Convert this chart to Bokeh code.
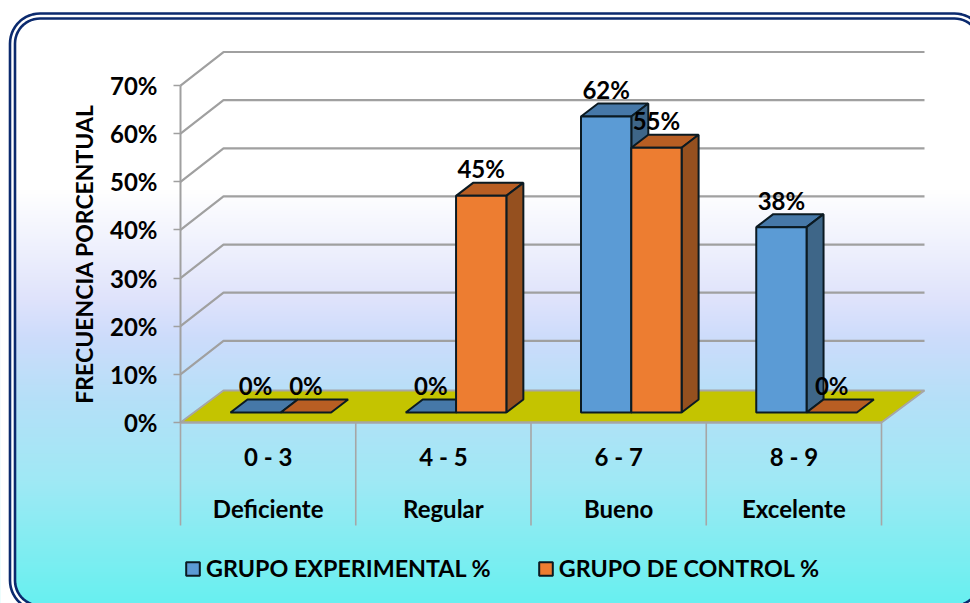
import numpy as np
from bokeh.plotting import figure
from bokeh.embed import file_html
from bokeh.resources import INLINE
from bokeh.models import Range1d, FixedTicker, Legend, LegendItem
from bokeh.core.properties import value

categories = ["0 - 3", "4 - 5", "6 - 7", "8 - 9"]
category_names = ["Deficiente", "Regular", "Bueno", "Excelente"]
experimental = [0, 0, 61.5, 38.5]
control = [0, 45, 55, 0]
experimental_labels = ["0%", "0%", "62%", "38%"]
control_labels = ["0%", "45%", "55%", "0%"]
y_ticks = [0, 10, 20, 30, 40, 50, 60, 70]
series_names = ["GRUPO EXPERIMENTAL %", "GRUPO DE CONTROL %"]

W, H = 970, 603
OFF = 0
PX_X = 175.25   # px per category
PX_Y = 4.814    # px per percent
X0, Y0 = 180.0, 422.0  # page px of the chart origin


def dx(px):
    return px / PX_X


def dy(px):
    return px / PX_Y


def sx(px):
    return (px - X0) / PX_X


def sy(py):
    return (Y0 - py) / PX_Y


FONT = "Lato"
p = figure(width=W, height=H, output_backend="svg", toolbar_location=None,
           x_range=Range1d(sx(OFF), sx(OFF + W)), y_range=Range1d(sy(OFF + H), sy(OFF)),
           min_border=0, outline_line_color=None, background_fill_color="white",
           border_fill_color="white")
p.grid.visible = False

# background gradient
stops_y = [0, 190, 250, 300, 337, 400, 480, 540, 603]
stops_c = np.array([(255, 255, 255), (255, 255, 255), (238, 240, 253), (223, 227, 251),
                    (205, 220, 251), (181, 224, 248), (160, 233, 245), (132, 237, 242),
                    (104, 240, 240)], float)
rows = np.arange(OFF + H, OFF, -1) - 0.5
img = np.zeros((H, 1), dtype=np.uint32)
view = img.view(np.uint8).reshape((H, 1, 4))
for c in range(3):
    view[:, 0, c] = np.interp(rows, stops_y, stops_c[:, c]).astype(np.uint8)
view[:, 0, 3] = 255
p.image_rgba(image=[img], x=sx(OFF), y=sy(OFF + H), dw=dx(W), dh=dy(H))


def rounded(l, t, r, b, rad, n=14):
    xs, ys = [], []
    for cx, cy, a0 in [(l + rad, t + rad, 180), (r - rad, t + rad, 270),
                       (r - rad, b - rad, 0), (l + rad, b - rad, 90)]:
        a = np.radians(np.linspace(a0, a0 + 90, n))
        xs.extend(cx + rad * np.cos(a))
        ys.extend(cy + rad * np.sin(a))
    return [sx(v) for v in xs], [sy(v) for v in ys]


# white outside the rounded frame, then the double frame
hx, hy = rounded(14.5, 18, 979, 605, 25)
ox = [sx(-5), sx(990), sx(990), sx(-5)]
oy = [sy(-5), sy(-5), sy(620), sy(620)]
p.multi_polygons(xs=[[[ox, hx]]], ys=[[[oy, hy]]], fill_color="white", line_color=None)
for (l, t, r, b, rad) in [(9.5, 13, 984, 610, 30), (14.5, 18, 979, 605, 25)]:
    bx, by = rounded(l, t, r, b, rad)
    p.patch(bx + bx[:1], by + by[:1], fill_color=None, line_color="#0b2a6e", line_width=2.6)

# floor and walls
DX_WALL, DY_FLOOR, DY_WALL = 43, 32, 33.5
n = len(categories)
p.patch([0, n, n + dx(DX_WALL), dx(DX_WALL)], [0, 0, dy(DY_FLOOR), dy(DY_FLOOR)],
        fill_color="#c4c400", line_color="#a6a6a6", line_width=2)
for t in y_ticks[1:]:
    p.line([0, dx(DX_WALL), n + dx(DX_WALL)], [t, t + dy(DY_WALL), t + dy(DY_WALL)],
           line_color="#a0a0a0", line_width=2.2)
p.segment(x0=list(range(n + 1)), y0=[0] * (n + 1), x1=list(range(n + 1)), y1=[sy(525)] * (n + 1),
          line_color="#a6a6a6", line_width=1.6)

# bars
BAR_W = 50.3 / PX_X
BAR_START = 50 / PX_X
BASE = dy(10)
DEPTH_X, DEPTH_Y = dx(17), dy(13)
EDGE = "#0b1a22"


def draw_bar(x0, v, front, top, side):
    x1 = x0 + BAR_W
    y0, y1 = BASE, BASE + v
    p.patch([x0, x1, x1 + DEPTH_X, x0 + DEPTH_X], [y1, y1, y1 + DEPTH_Y, y1 + DEPTH_Y],
            fill_color=top, line_color=EDGE, line_width=2)
    if v > 0:
        p.patch([x1, x1 + DEPTH_X, x1 + DEPTH_X, x1], [y0, y0 + DEPTH_Y, y1 + DEPTH_Y, y1],
                fill_color=side, line_color=EDGE, line_width=2)
        p.patch([x0, x1, x1, x0], [y0, y0, y1, y1], fill_color=front, line_color=EDGE, line_width=2)


BLUE = ("#5b9bd5", "#4678a8", "#3e6688")
ORANGE = ("#ed7d31", "#b85e23", "#95501f")
for i in range(n):
    draw_bar(i + BAR_START, experimental[i], *BLUE)
    draw_bar(i + BAR_START + BAR_W, control[i], *ORANGE)

# data labels
lx, ly, lt = [], [], []
for i in range(n):
    for k, (v, s) in enumerate(((experimental[i], experimental_labels[i]), (control[i], control_labels[i]))):
        lx.append(i + BAR_START + BAR_W * (k + 0.5))
        ly.append(BASE + v)
        lt.append(s)
p.text(x=lx, y=ly, text=lt, y_offset=-27, text_align="center", text_baseline="middle",
       text_font=value(FONT), text_font_style="bold", text_font_size="24px", text_color="black")

# second level of category labels
p.text(x=[i + 0.5 for i in range(n)], y=[sy(508)] * n, text=category_names,
       text_align="center", text_baseline="middle", text_font=value(FONT),
       text_font_style="bold", text_font_size="24px", text_color="black")

# axes
ax = p.yaxis[0]
ax.fixed_location = 0
ax.bounds = (0, 70)
ax.ticker = FixedTicker(ticks=y_ticks)
ax.major_label_overrides = {t: f"{t}%" for t in y_ticks}
ax.major_label_text_font = FONT
ax.major_label_text_font_style = "bold"
ax.major_label_text_font_size = "24px"
ax.major_label_text_color = "black"
ax.major_label_standoff = 16
ax.major_tick_in = 0
ax.major_tick_out = 7
ax.minor_tick_line_color = None
ax.major_tick_line_color = "#a0a0a0"
ax.major_tick_line_width = 1.6
ax.axis_line_color = "#a0a0a0"
ax.axis_line_width = 2
ax.axis_label = "FRECUENCIA PORCENTUAL"
ax.axis_label_text_font = FONT
ax.axis_label_text_font_style = "bold"
ax.axis_label_text_font_size = "23px"
ax.axis_label_text_color = "black"
ax.axis_label_standoff = 9

bx_ = p.xaxis[0]
bx_.fixed_location = 0
bx_.bounds = (0, n)
bx_.ticker = FixedTicker(ticks=[i + 0.5 for i in range(n)])
bx_.major_label_overrides = {i + 0.5: c for i, c in enumerate(categories)}
bx_.major_label_text_font = FONT
bx_.major_label_text_font_style = "bold"
bx_.major_label_text_font_size = "24px"
bx_.major_label_text_color = "black"
bx_.major_label_standoff = 13
bx_.major_tick_line_color = None
bx_.minor_tick_line_color = None
bx_.axis_line_color = "#a6a6a6"
bx_.axis_line_width = 2

# legend
r1 = p.quad(left=[sx(-50)], right=[sx(-40)], top=[sy(-40)], bottom=[sy(-50)],
            fill_color=BLUE[0], line_color=EDGE, line_width=2)
r2 = p.quad(left=[sx(-50)], right=[sx(-40)], top=[sy(-40)], bottom=[sy(-50)],
            fill_color=ORANGE[0], line_color=EDGE, line_width=2)
legend = Legend(items=[LegendItem(label=series_names[0], renderers=[r1]),
                       LegendItem(label=series_names[1], renderers=[r2])],
                orientation="horizontal", location=(184, 21), background_fill_alpha=0,
                border_line_color=None, glyph_width=17, glyph_height=17, spacing=46,
                label_text_font=FONT, label_text_font_style="bold", label_text_font_size="23.3px",
                label_text_color="black", label_standoff=5, margin=0, padding=0)
p.add_layout(legend)

open("out.html", "w").write(file_html(p, INLINE))
